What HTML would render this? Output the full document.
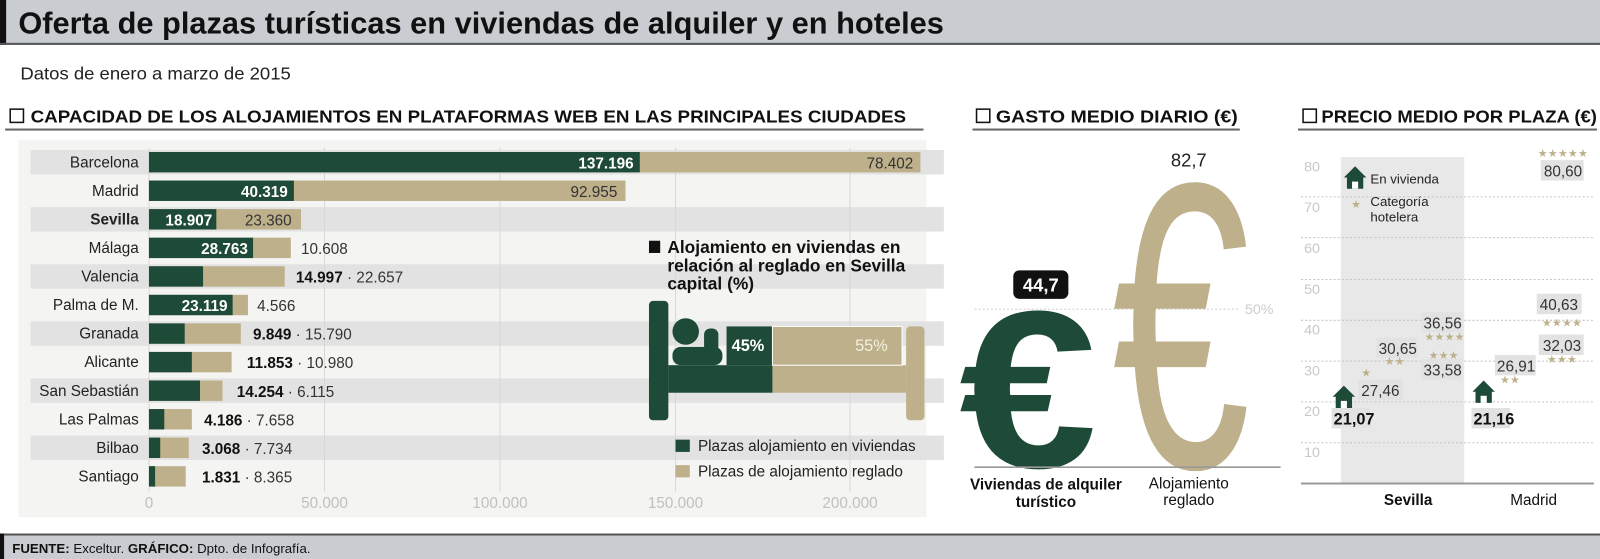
<!DOCTYPE html>
<html><head><meta charset="utf-8"><style>
html,body{margin:0;padding:0;background:#fff;}
svg{display:block;font-family:"Liberation Sans Narrow","Liberation Sans",sans-serif;}
</style></head><body>
<svg width="1600" height="559" viewBox="0 0 1568 548" preserveAspectRatio="none" xmlns="http://www.w3.org/2000/svg">
<defs>
<g id="house"><path d="M-11,-1 L0,-12 L11,-1 L8,-1 L8,10 L-8,10 L-8,-1 Z" fill="#1e4a38"/><rect x="-3" y="3" width="6" height="7" fill="#fff"/></g>
</defs>
<!-- title -->
<rect x="0" y="0" width="1568" height="44" fill="#c9ccd1"/>
<rect x="0" y="0" width="6" height="44" fill="#111"/>
<rect x="0" y="42" width="1568" height="2" fill="#555"/>
<text x="18" y="33" font-size="30" font-weight="bold" textLength="907" lengthAdjust="spacingAndGlyphs" fill="#111">Oferta de plazas turísticas en viviendas de alquiler y en hoteles</text>
<text x="20" y="78" font-size="17" textLength="265" lengthAdjust="spacingAndGlyphs" fill="#222">Datos de enero a marzo de 2015</text>
<!-- section headers -->
<g font-size="17" font-weight="bold" fill="#111">
<rect x="10" y="107" width="13" height="13" fill="none" stroke="#111" stroke-width="1.5"/>
<text x="30" y="120" textLength="858" lengthAdjust="spacingAndGlyphs">CAPACIDAD DE LOS ALOJAMIENTOS EN PLATAFORMAS WEB EN LAS PRINCIPALES CIUDADES</text>
<rect x="957" y="107" width="13" height="13" fill="none" stroke="#111" stroke-width="1.5"/>
<text x="976" y="120" textLength="237" lengthAdjust="spacingAndGlyphs">GASTO MEDIO DIARIO (€)</text>
<rect x="1277" y="107" width="13" height="13" fill="none" stroke="#111" stroke-width="1.5"/>
<text x="1295" y="120" textLength="270" lengthAdjust="spacingAndGlyphs">PRECIO MEDIO POR PLAZA (€)</text>
</g>
<rect x="5" y="126" width="900" height="2" fill="#666"/>
<rect x="953" y="126" width="262" height="2" fill="#666"/>
<rect x="1272" y="126" width="293" height="2" fill="#666"/>
<!-- bar chart panel -->
<rect x="18" y="137" width="890" height="370" fill="#f4f4f2"/>
<g fill="#e2e2e2">
<rect x="30" y="147" width="895" height="24"/>
<rect x="30" y="203" width="895" height="24"/>
<rect x="30" y="259" width="895" height="24"/>
<rect x="30" y="315" width="895" height="24"/>
<rect x="30" y="371" width="895" height="24"/>
<rect x="30" y="427" width="895" height="24"/>
</g>
<g stroke="#d8d8d8" stroke-width="1">
<line x1="146" y1="145" x2="146" y2="482"/>
<line x1="318" y1="145" x2="318" y2="482"/>
<line x1="490" y1="145" x2="490" y2="482"/>
<line x1="662" y1="145" x2="662" y2="482"/>
<line x1="833" y1="145" x2="833" y2="482"/>
</g>
<g font-size="15" fill="#c0c0c0" text-anchor="middle">
<text x="146" y="498">0</text><text x="318" y="498">50.000</text><text x="490" y="498">100.000</text><text x="662" y="498">150.000</text><text x="833" y="498">200.000</text>
</g>
<g font-size="15" fill="#222" text-anchor="end">
<text x="136" y="164">Barcelona</text><text x="136" y="192">Madrid</text><text x="136" y="220" font-weight="bold">Sevilla</text><text x="136" y="248">Málaga</text><text x="136" y="276">Valencia</text><text x="136" y="304">Palma de M.</text><text x="136" y="332">Granada</text><text x="136" y="360">Alicante</text><text x="136" y="388">San Sebastián</text><text x="136" y="416">Las Palmas</text><text x="136" y="444">Bilbao</text><text x="136" y="472">Santiago</text>
</g>
<g fill="#bdb08a">
<rect x="146" y="149" width="756" height="20"/><rect x="146" y="177" width="467" height="20"/><rect x="146" y="205" width="149" height="20"/><rect x="146" y="233" width="139" height="20"/><rect x="146" y="261" width="133" height="20"/><rect x="146" y="289" width="97" height="20"/><rect x="146" y="317" width="90" height="20"/><rect x="146" y="345" width="81" height="20"/><rect x="146" y="373" width="72" height="20"/><rect x="146" y="401" width="42" height="20"/><rect x="146" y="429" width="39" height="20"/><rect x="146" y="457" width="36" height="20"/>
</g>
<g fill="#1e4a38">
<rect x="146" y="149" width="481" height="20"/><rect x="146" y="177" width="142" height="20"/><rect x="146" y="205" width="66" height="20"/><rect x="146" y="233" width="102" height="20"/><rect x="146" y="261" width="53" height="20"/><rect x="146" y="289" width="82" height="20"/><rect x="146" y="317" width="35" height="20"/><rect x="146" y="345" width="42" height="20"/><rect x="146" y="373" width="50" height="20"/><rect x="146" y="401" width="15" height="20"/><rect x="146" y="429" width="11" height="20"/><rect x="146" y="457" width="6" height="20"/>
</g>
<g font-size="15" font-weight="bold" fill="#fff" text-anchor="end">
<text x="621" y="165">137.196</text><text x="282" y="193">40.319</text><text x="208" y="221">18.907</text><text x="243" y="249">28.763</text><text x="223" y="305">23.119</text>
</g>
<g font-size="15" fill="#333">
<text x="895" y="165" text-anchor="end">78.402</text><text x="605" y="193" text-anchor="end">92.955</text><text x="240" y="221">23.360</text><text x="295" y="249">10.608</text><text x="252" y="305">4.566</text>
<text x="290" y="277"><tspan font-weight="bold" fill="#111">14.997</tspan> · 22.657</text>
<text x="248" y="333"><tspan font-weight="bold" fill="#111">9.849</tspan> · 15.790</text>
<text x="242" y="361"><tspan font-weight="bold" fill="#111">11.853</tspan> · 10.980</text>
<text x="232" y="389"><tspan font-weight="bold" fill="#111">14.254</tspan> · 6.115</text>
<text x="200" y="417"><tspan font-weight="bold" fill="#111">4.186</tspan> · 7.658</text>
<text x="198" y="445"><tspan font-weight="bold" fill="#111">3.068</tspan> · 7.734</text>
<text x="198" y="473"><tspan font-weight="bold" fill="#111">1.831</tspan> · 8.365</text>
</g>
<!-- bed infographic -->
<g font-size="17" font-weight="bold" fill="#111">
<rect x="636" y="236" width="11" height="12"/>
<text x="654" y="248">Alojamiento en viviendas en</text>
<text x="654" y="266">relación al reglado en Sevilla</text>
<text x="654" y="284">capital (%)</text>
</g>
<rect x="636" y="295" width="19" height="117" rx="4" fill="#1e4a38"/>
<rect x="888" y="320" width="18" height="92" rx="4" fill="#bdb08a"/>
<rect x="655" y="358" width="102" height="27" fill="#1e4a38"/>
<rect x="757" y="358" width="131" height="27" fill="#bdb08a"/>
<circle cx="672" cy="325" r="13" fill="#1e4a38"/>
<rect x="659" y="340" width="49" height="18" rx="8" fill="#1e4a38"/>
<rect x="690" y="322" width="14" height="30" rx="6" fill="#1e4a38"/>
<rect x="712" y="320" width="45" height="38" fill="#1e4a38"/>
<rect x="757" y="320" width="127" height="38" fill="#bdb08a" stroke="#fff" stroke-width="1"/>
<text x="717" y="344" font-size="16" font-weight="bold" fill="#fff">45%</text>
<text x="838" y="344" font-size="16" fill="#f4f0e0">55%</text>
<rect x="662" y="431" width="14" height="12" fill="#1e4a38"/>
<text x="684" y="442" font-size="15" fill="#222">Plazas alojamiento en viviendas</text>
<rect x="662" y="456" width="14" height="12" fill="#bdb08a"/>
<text x="684" y="467" font-size="15" fill="#222">Plazas de alojamiento reglado</text>
<!-- euro chart -->
<line x1="955" y1="303" x2="1215" y2="303" stroke="#ccc" stroke-dasharray="2,2"/>
<text x="1220" y="308" font-size="14" fill="#ccc">50%</text>
<text x="1090" y="458" font-size="400" textLength="135" lengthAdjust="spacingAndGlyphs" fill="#bdb08a" font-family="Liberation Sans, sans-serif">€</text>
<text x="940" y="458" font-size="220" font-weight="bold" textLength="135" lengthAdjust="spacingAndGlyphs" fill="#1e4a38" font-family="Liberation Sans, sans-serif">€</text>
<line x1="955" y1="458" x2="1255" y2="458" stroke="#999" stroke-width="1.5"/>
<rect x="993" y="265" width="54" height="28" rx="6" fill="#111"/>
<text x="1020" y="286" font-size="18" font-weight="bold" fill="#fff" text-anchor="middle">44,7</text>
<text x="1165" y="163" font-size="18" fill="#222" text-anchor="middle">82,7</text>
<g font-size="15" fill="#111" text-anchor="middle">
<text x="1025" y="480" font-weight="bold">Viviendas de alquiler</text>
<text x="1025" y="497" font-weight="bold">turístico</text>
<text x="1165" y="479">Alojamiento</text>
<text x="1165" y="495">reglado</text>
</g>
<!-- price chart -->
<rect x="1314" y="154" width="121" height="320" fill="#e8e8e8"/>
<g stroke="#c4c4c4" stroke-dasharray="2,2">
<line x1="1275" y1="193" x2="1562" y2="193"/><line x1="1275" y1="233" x2="1562" y2="233"/><line x1="1275" y1="274" x2="1562" y2="274"/><line x1="1275" y1="314" x2="1562" y2="314"/><line x1="1275" y1="354" x2="1562" y2="354"/><line x1="1275" y1="394" x2="1562" y2="394"/><line x1="1275" y1="434" x2="1562" y2="434"/>
</g>
<line x1="1275" y1="474" x2="1562" y2="474" stroke="#999" stroke-width="2"/>
<g font-size="14" fill="#c8c8c8">
<text x="1278" y="168">80</text><text x="1278" y="208">70</text><text x="1278" y="248">60</text><text x="1278" y="288">50</text><text x="1278" y="328">40</text><text x="1278" y="368">30</text><text x="1278" y="408">20</text><text x="1278" y="448">10</text>
</g>
<use href="#house" x="1328" y="175" transform="translate(0,0)"/>
<text x="1343" y="180" font-size="13" fill="#222">En vivienda</text>
<text x="1329" y="204" font-size="11" fill="#bdb08a" text-anchor="middle">★</text>
<text x="1343" y="202" font-size="13" fill="#222">Categoría</text>
<text x="1343" y="217" font-size="13" fill="#222">hotelera</text>
<g fill="#e2e2e2">
<rect x="1331" y="372" width="44" height="20"/><rect x="1349" y="331" width="40" height="20"/><rect x="1393" y="306" width="40" height="20"/><rect x="1393" y="352" width="40" height="20"/><rect x="1465" y="348" width="40" height="20"/><rect x="1508" y="328" width="44" height="20"/><rect x="1506" y="288" width="44" height="20"/><rect x="1510" y="157" width="42" height="20"/><rect x="1305" y="400" width="38" height="20"/><rect x="1442" y="400" width="38" height="20"/>
</g>
<g font-size="15" fill="#333">
<text x="1334" y="388">27,46</text><text x="1351" y="347">30,65</text><text x="1395" y="322">36,56</text><text x="1395" y="368">33,58</text><text x="1467" y="364">26,91</text><text x="1512" y="344">32,03</text><text x="1509" y="304">40,63</text><text x="1513" y="173">80,60</text>
</g>
<g font-size="11" fill="#bdb08a">
<text x="1334" y="369">★</text><text x="1357" y="358">★★</text><text x="1396" y="334">★★★★</text><text x="1400" y="352">★★★</text><text x="1470" y="376">★★</text><text x="1516" y="356">★★★</text><text x="1511" y="320">★★★★</text><text x="1507" y="154">★★★★★</text>
</g>
<use href="#house" x="1317" y="390"/>
<use href="#house" x="1454" y="385"/>
<text x="1307" y="416" font-size="16" font-weight="bold" fill="#111">21,07</text>
<text x="1444" y="416" font-size="16" font-weight="bold" fill="#111">21,16</text>
<text x="1380" y="495" font-size="15" font-weight="bold" fill="#111" text-anchor="middle">Sevilla</text>
<text x="1503" y="495" font-size="15" fill="#111" text-anchor="middle">Madrid</text>
<!-- footer -->
<rect x="0" y="525" width="1568" height="23" fill="#c9ccd1"/>
<rect x="0" y="523" width="1568" height="2" fill="#555"/>
<rect x="0" y="523" width="4" height="25" fill="#111"/>
<text x="12" y="542" font-size="13" fill="#111"><tspan font-weight="bold">FUENTE:</tspan> Exceltur. <tspan font-weight="bold">GRÁFICO:</tspan> Dpto. de Infografía.</text>
</svg>
</body></html>
